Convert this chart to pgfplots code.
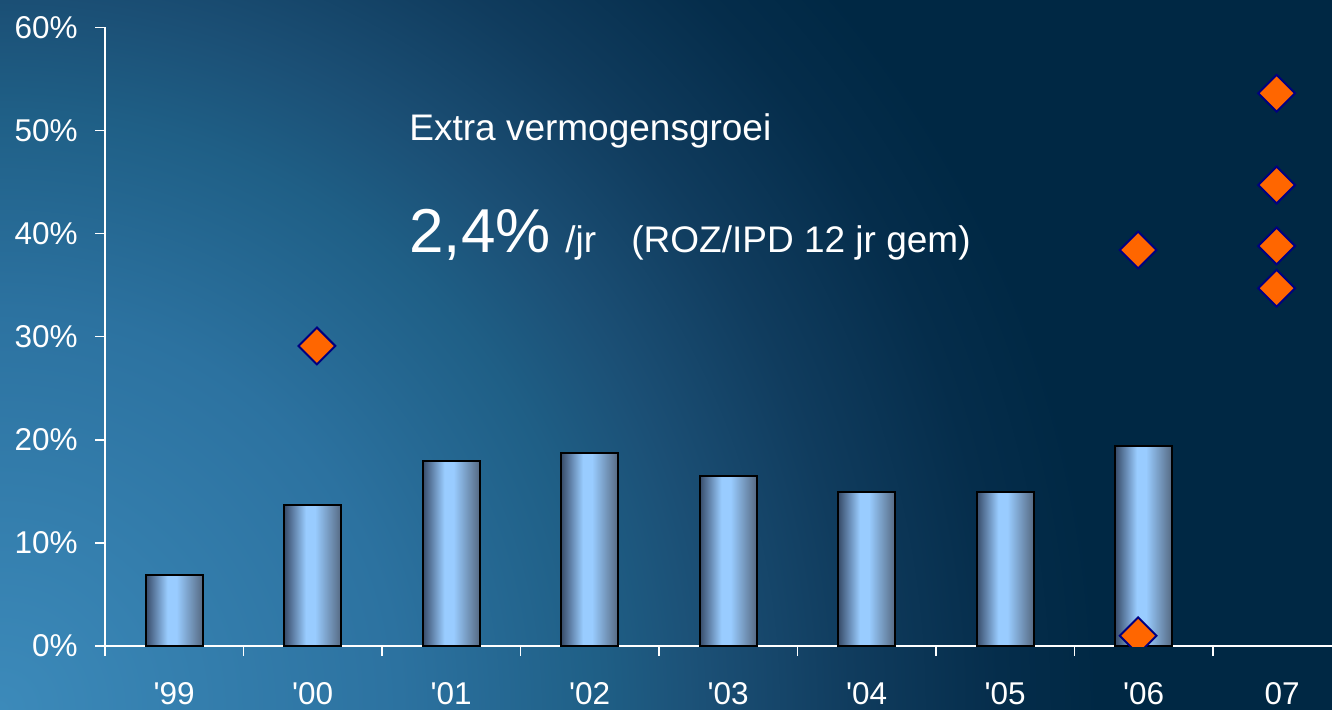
\documentclass[border=0pt]{standalone}
\usepackage{pgfplots}
\pgfplotsset{compat=1.18}
\usepackage{fontspec}
\setmainfont{Liberation Sans}
\definecolor{bgdark}{RGB}{0,40,68}
\definecolor{bg0}{RGB}{60,138,186}
\definecolor{bg1}{RGB}{44,114,160}
\definecolor{bg2}{RGB}{31,95,134}
\definecolor{bg3}{RGB}{27,79,117}
\definecolor{bg4}{RGB}{16,60,94}
\definecolor{bg5}{RGB}{5,45,75}
\definecolor{bard1}{RGB}{55,75,105}
\definecolor{barl}{RGB}{153,204,255}
\definecolor{bard2}{RGB}{85,105,130}
\definecolor{dorange}{RGB}{255,102,0}
\definecolor{dnavy}{RGB}{0,0,128}
\pgfdeclareradialshading{bgrad}{\pgfpointorigin}{color(0bp)=(bg0); color(4.55bp)=(bg1); color(6.8bp)=(bg2); color(8.05bp)=(bg3); color(9.66bp)=(bg4); color(11.36bp)=(bg5); color(12.5bp)=(bgdark); color(50bp)=(bgdark)}
\pgfdeclarehorizontalshading{barshade}{100bp}{color(0bp)=(bard1); color(25bp)=(bard1); color(44bp)=(barl); color(52bp)=(barl); color(75bp)=(bard2); color(100bp)=(bard2)}
\pgfplotsset{mybar/.style={ybar, bar width=28.5pt, draw=black, line width=1pt, shade, shading=barshade}}
\begin{document}
\begin{tikzpicture}
\useasboundingbox (0,0) rectangle (666pt,354.5pt);
\fill[bgdark] (0,0) rectangle (666pt,354.5pt);
\begin{scope}
\clip (0,0) rectangle (666pt,354.5pt);
\shade[shading=bgrad] (0,0) circle (1100pt);
\end{scope}
\begin{axis}[
  at={(52.5pt,31.5pt)}, anchor=south west,
  scale only axis, width=613.5pt, height=309.35pt,
  xmin=-0.5, xmax=8.36, ymin=0, ymax=60,
  axis lines*=left,
  axis line style={white, line width=0.75pt},
  tick style={white, line width=0.75pt},
  tick align=outside, major tick length=5pt,
  xtick={-0.5,0.5,...,7.5},
  xticklabels={{\textquotesingle}99,{\textquotesingle}00,{\textquotesingle}01,{\textquotesingle}02,{\textquotesingle}03,{\textquotesingle}04,{\textquotesingle}05,{\textquotesingle}06,07},
  xticklabel style={xshift=34.62pt, anchor=north, inner sep=0pt, yshift=-13pt},
  ytick={0,10,...,60},
  yticklabel={\pgfmathprintnumber{\tick}\%},
  yticklabel style={anchor=east, inner sep=0pt, xshift=-8.5pt},
  /pgf/number format/assume math mode=true,
  tick label style={text=white, font=\fontsize{15.75}{18}\selectfont},
  clip marker paths=true,
]
\addplot[mybar] coordinates {(0,6.9)};
\addplot[mybar] coordinates {(1,13.7)};
\addplot[mybar] coordinates {(2,17.9)};
\addplot[mybar] coordinates {(3,18.7)};
\addplot[mybar] coordinates {(4,16.5)};
\addplot[mybar] coordinates {(5,14.9)};
\addplot[mybar] coordinates {(6,14.9)};
\addplot[mybar] coordinates {(7,19.4)};
\addplot[only marks, mark=square*, mark size=6.5pt,
  mark options={rotate=45, fill=dorange, draw=dnavy, line width=1pt}]
  coordinates {(1.03,29.1) (6.96,38.4) (6.96,1.0) (7.96,53.6) (7.96,44.7) (7.96,38.8) (7.96,34.7)};
\end{axis}
\node[anchor=base west, inner sep=0pt, text=white, font=\fontsize{18.5}{22}\selectfont] at (204.5pt,284.2pt) {Extra vermogensgroei};
\node[anchor=base west, inner sep=0pt, text=white, font=\fontsize{31}{36}\selectfont] at (204.5pt,228.5pt) {2,4\%};
\node[anchor=base west, inner sep=0pt, text=white, font=\fontsize{18.5}{22}\selectfont] at (282.5pt,228.5pt) {/jr};
\node[anchor=base west, inner sep=0pt, text=white, font=\fontsize{18.5}{22}\selectfont] at (315.5pt,228.5pt) {(ROZ/IPD 12 jr gem)};
\end{tikzpicture}
\end{document}
